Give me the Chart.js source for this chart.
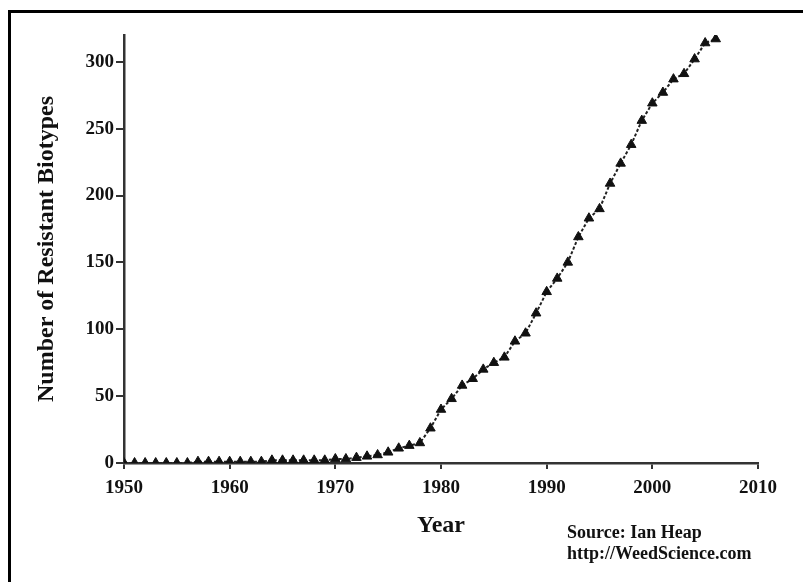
<!DOCTYPE html>
<html>
<head>
<meta charset="utf-8">
<script src="https://cdn.jsdelivr.net/npm/chart.js@4.4.1/dist/chart.umd.min.js"></script>
<style>
  body { margin: 0; background: #fff; }
  #wrap { position: relative; width: 803px; height: 582px; overflow: hidden; }
  #frame { position: absolute; left: 8px; top: 10px; right: -10px; bottom: -10px;
           border-top: 3px solid #000; border-left: 3px solid #000; }
  #source { position: absolute; left: 567px; top: 522px; font: bold 18px 'Liberation Serif', 'Times New Roman', serif;
            line-height: 21px; color: #111; }
</style>
</head>
<body>
<div id="wrap">
  <div id="frame"></div>
  <canvas id="myChart" width="803" height="582"></canvas>
  <div id="source">Source: Ian Heap<br>http://WeedScience.com</div>
</div>
<script>
// resistant biotypes per year
var years = [1950, 1951, 1952, 1953, 1954, 1955, 1956, 1957, 1958, 1959,
             1960, 1961, 1962, 1963, 1964, 1965, 1966, 1967, 1968, 1969,
             1970, 1971, 1972, 1973, 1974, 1975, 1976, 1977, 1978, 1979,
             1980, 1981, 1982, 1983, 1984, 1985, 1986, 1987, 1988, 1989,
             1990, 1991, 1992, 1993, 1994, 1995, 1996, 1997, 1998, 1999,
             2000, 2001, 2002, 2003, 2004, 2005, 2006];
var biotypes = [0, 0, 0, 0, 0, 0, 0, 1, 1, 1,
                1, 1, 1, 1, 2, 2, 2, 2, 2, 2,
                3, 3, 4, 5, 6, 8, 11, 13, 15, 26,
                40, 48, 58, 63, 70, 75, 79, 91, 97, 112,
                128, 138, 150, 169, 183, 190, 209, 224, 238, 256,
                269, 277, 287, 291, 302, 314, 317];
var xTicks = [1950, 1960, 1970, 1980, 1990, 2000, 2010];
var yTicks = [0, 50, 100, 150, 200, 250, 300];

var serif = "'Liberation Serif', 'Times New Roman', serif";
var points = years.map(function (yr, i) { return {x: yr, y: biotypes[i]}; });

const chart = new Chart("myChart", {
  type: "line",
  data: {
    datasets: [{
      data: points,
      borderColor: "#222",
      borderWidth: 2,
      borderDash: [3, 2],
      backgroundColor: "#111",
      pointStyle: "triangle",
      pointRadius: 5.5,
      pointBorderWidth: 1,
      pointBorderColor: "#111",
      fill: false,
      tension: 0
    }]
  },
  options: {
    responsive: false,
    animation: false,
    layout: {padding: {left: 30, top: 35, right: 45, bottom: 42}},
    plugins: {legend: {display: false}, tooltip: {enabled: false}},
    scales: {
      x: {
        type: "linear",
        min: 1950,
        max: 2010,
        afterBuildTicks: function (s) { s.ticks = xTicks.map(function (v) { return {value: v}; }); },
        afterFit: function (s) { s.height = 77; },
        border: {color: "#333", width: 2.5},
        grid: {drawOnChartArea: false, drawTicks: true, tickLength: 6, color: "#333", lineWidth: 2},
        ticks: {
          color: "#111", padding: 8, maxRotation: 0,
          font: {family: serif, size: 19, weight: "bold"},
          callback: function (v) { return String(v); }
        },
        title: {display: true, text: "Year", color: "#111", padding: 0,
                font: {family: serif, size: 24, weight: "bold"}}
      },
      y: {
        min: 0,
        max: 320,
        afterBuildTicks: function (s) { s.ticks = yTicks.map(function (v) { return {value: v}; }); },
        afterFit: function (s) { s.width = 94; },
        border: {color: "#333", width: 2.5},
        grid: {drawOnChartArea: false, drawTicks: true, tickLength: 8, color: "#333", lineWidth: 2},
        ticks: {color: "#111", padding: 2, font: {family: serif, size: 19, weight: "bold"}},
        title: {display: true, text: "Number of Resistant Biotypes", color: "#111",
                padding: {top: 2, bottom: 0},
                font: {family: serif, size: 24, weight: "bold"}}
      }
    }
  }
});
</script>
</body>
</html>
